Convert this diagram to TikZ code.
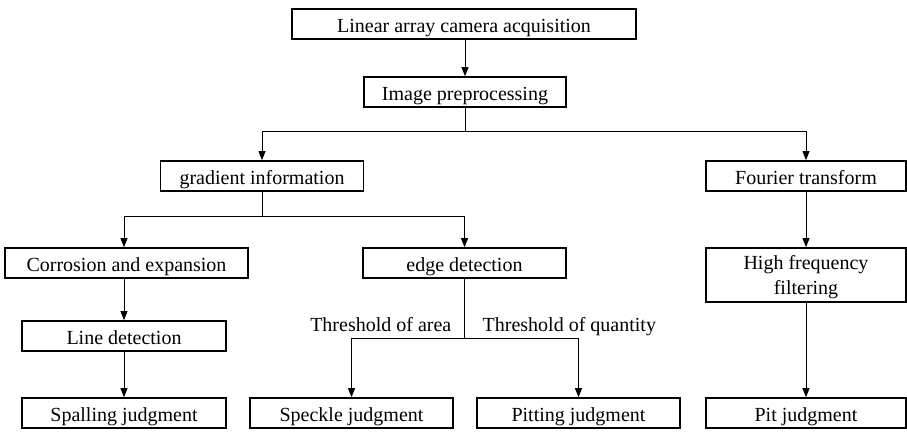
\documentclass[tikz,border=0pt]{standalone}
\usepackage{fontspec}
\setmainfont{Liberation Serif}
\usetikzlibrary{arrows.meta,calc}
\begin{document}
\begin{tikzpicture}[x=1pt,y=-1pt,
  box/.style={draw,line width=1.7pt,minimum height=30pt,inner sep=0pt,
    font=\fontsize{20}{25}\selectfont,align=center,
    text height=17pt,text depth=0.6pt},
  tallbox/.style={draw,line width=1.7pt,minimum height=54pt,inner sep=0pt,
    font=\fontsize{20}{25}\selectfont,align=center},
  conn/.style={line width=0.8pt},
  arr/.style={conn,-{Triangle[length=9pt,width=7pt]}},
  lbl/.style={font=\fontsize{20}{25}\selectfont,inner sep=0pt}]
\useasboundingbox (0,0) rectangle (907,433);

\node[box,minimum width=344pt] (cam) at (464,24) {Linear array camera acquisition};
\node[box,minimum width=202pt] (pre) at (465,92) {Image preprocessing};
\node[box,minimum width=203pt] (grad) at (262,176) {gradient information};
\node[box,minimum width=200pt] (four) at (806,176) {Fourier transform};
\node[box,minimum width=243pt] (corr) at (126.5,263) {Corrosion and expansion};
\node[box,minimum width=203pt] (edge) at (464.5,263) {edge detection};
\node[tallbox,minimum width=200pt] (hff) at (806,275) {\rule{0pt}{18pt}High frequency\\filtering};
\node[box,minimum width=204pt] (line) at (124,336) {Line detection};
\node[box,minimum width=204pt] (spal) at (124,413) {Spalling judgment};
\node[box,minimum width=203pt] (speck) at (351.5,413) {Speckle judgment};
\node[box,minimum width=203pt] (pitting) at (578.5,413) {Pitting judgment};
\node[box,minimum width=200pt] (pit) at (806,413) {Pit judgment};

% junction points of the branching lines
\coordinate (b1) at ($(pre.south)+(0,24)$);
\coordinate (b2) at ($(grad.south)+(0,25)$);
\coordinate (b3) at ($(edge.south)+(0,60)$);

\draw[arr] (cam.south -| pre) -- (pre.north);
\draw[conn] (pre.south) -- (b1);
\draw[arr] (b1) -| (grad.north);
\draw[arr] (b1) -| (four.north);
\draw[conn] (grad.south) -- (b2);
\draw[arr] (b2) -| (corr.north -| line);
\draw[arr] (b2) -| (edge.north);
\draw[arr] (corr.south -| line) -- (line.north);
\draw[arr] (line.south) -- (spal.north);
\draw[conn] (edge.south) -- (b3);
\draw[arr] (b3) -| (speck.north);
\draw[arr] (b3) -| (pitting.north);
\draw[arr] (four.south) -- (hff.north);
\draw[arr] (hff.south) -- (pit.north);

\node[lbl,anchor=base east] (ta) at ($(b3)+(-13,-7)$) {Threshold of area};
\node[lbl,anchor=base west] (tq) at ($(b3)+(18,-7)$) {Threshold of quantity};
\end{tikzpicture}
\end{document}
